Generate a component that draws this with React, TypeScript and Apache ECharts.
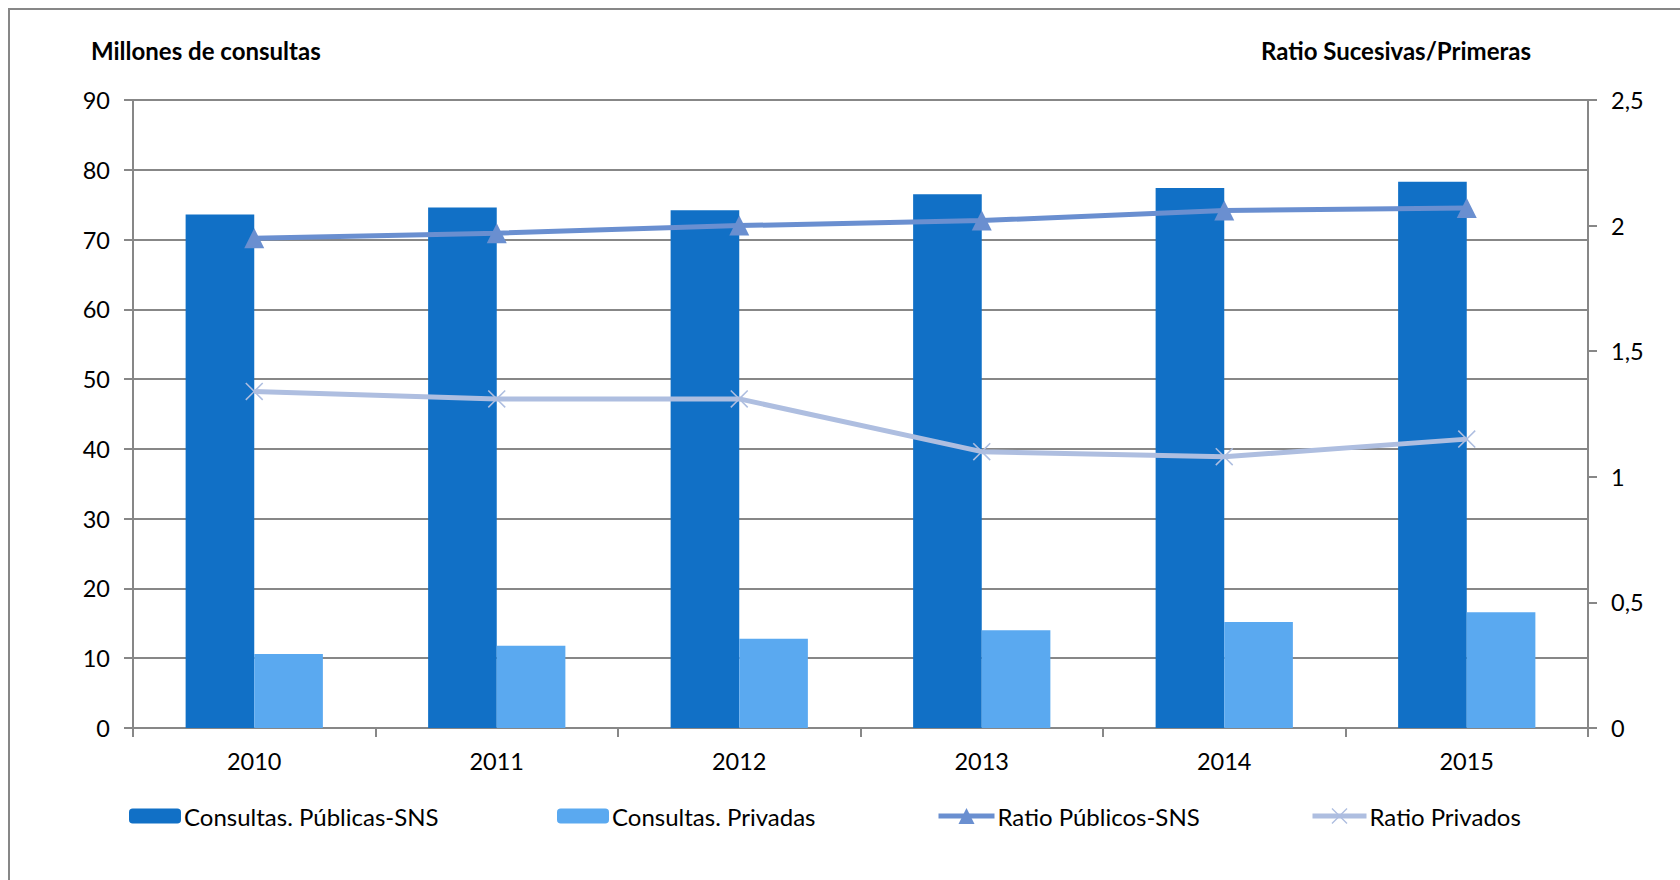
import React, { useEffect, useRef } from "react";
import * as echarts from "echarts";

const years = ["2010", "2011", "2012", "2013", "2014", "2015"];
const consultasPublicas = [73.6, 74.6, 74.2, 76.5, 77.4, 78.3];
const consultasPrivadas = [10.6, 11.8, 12.8, 14.0, 15.2, 16.6];
const ratioPublicos = [1.95, 1.97, 2.0, 2.02, 2.06, 2.07];
const ratioPrivados = [1.34, 1.31, 1.31, 1.1, 1.08, 1.15];

const seriesNames = [
  "Consultas. Públicas-SNS",
  "Consultas. Privadas",
  "Ratio Públicos-SNS",
  "Ratio Privados",
];

const FONT = "Lato";
const GRAY = "#878787";
const C_DARK = "#1170C6";
const C_LIGHT = "#5AA9F0";
const C_RPUB = "#6A8FD0";
const C_RPRIV = "#AEBEE0";
const X_SYMBOL =
  "path://M0,1.2 L1.2,0 L10,8.8 L18.8,0 L20,1.2 L11.2,10 L20,18.8 L18.8,20 L10,11.2 L1.2,20 L0,18.8 L8.8,10 Z";

export default function App() {
  const ref = useRef<HTMLDivElement>(null);

  useEffect(() => {
    if (!ref.current) return;
    const chart = echarts.init(ref.current, null, { renderer: "svg" });
    const legendText = { fontFamily: FONT, fontSize: 24, color: "#000" };
    const mkLegend = (
      name: string,
      left: number,
      w: number,
      h: number,
      lineColor?: string
    ) => ({
      show: true,
      data: [name],
      left,
      top: 804,
      padding: 0,
      itemWidth: w,
      itemHeight: h,
      itemGap: 0,
      textStyle: { ...legendText, padding: [0, 0, 0, -2] },
      selectedMode: false,
      ...(lineColor ? { lineStyle: { color: lineColor, width: 5 } } : {}),
    });
    chart.setOption({
      animation: false,
      backgroundColor: "#fff",
      grid: { left: 133, right: 92, top: 100, bottom: 152, containLabel: false },
      legend: [
        mkLegend(seriesNames[0], 129, 52, 15),
        mkLegend(seriesNames[1], 557, 52, 15),
        mkLegend(seriesNames[2], 936, 56, 20, C_RPUB),
        mkLegend(seriesNames[3], 1310, 54, 20, C_RPRIV),
      ],
      graphic: [
        {
          type: "rect",
          shape: { x: 9, y: 9, width: 1700, height: 1000 },
          style: { fill: "none", stroke: GRAY, lineWidth: 2 },
          silent: true,
          z: -10,
        },
        {
          type: "text",
          left: 91,
          top: 38,
          style: {
            text: "Millones de consultas",
            fontFamily: FONT,
            fontWeight: "bold",
            fontSize: 24,
            fill: "#000",
          },
        },
        {
          type: "text",
          right: 1680 - 1531,
          top: 38,
          style: {
            text: "Ratio Sucesivas/Primeras",
            fontFamily: FONT,
            fontWeight: "bold",
            fontSize: 24,
            fill: "#000",
          },
        },
      ],
      xAxis: {
        type: "category",
        data: years,
        axisLine: { lineStyle: { color: GRAY, width: 2 } },
        axisTick: { show: true, length: 9, lineStyle: { color: GRAY, width: 2 } },
        axisLabel: { margin: 21, fontFamily: FONT, fontSize: 23.5, color: "#000" },
        splitLine: { show: false },
      },
      yAxis: [
        {
          type: "value",
          min: 0,
          max: 90,
          interval: 10,
          axisLine: { show: true, lineStyle: { color: GRAY, width: 2 } },
          axisTick: { show: true, length: 9, lineStyle: { color: GRAY, width: 2 } },
          axisLabel: { margin: 23, fontFamily: FONT, fontSize: 23.5, color: "#000" },
          splitLine: { show: true, lineStyle: { color: GRAY, width: 2 } },
        },
        {
          type: "value",
          min: 0,
          max: 2.5,
          interval: 0.5,
          position: "right",
          axisLine: { show: true, lineStyle: { color: GRAY, width: 2 } },
          axisTick: { show: true, length: 9, lineStyle: { color: GRAY, width: 2 } },
          axisLabel: {
            margin: 23,
            fontFamily: FONT,
            fontSize: 23.5,
            color: "#000",
            formatter: (v: number) => String(v).replace(".", ","),
          },
          splitLine: { show: false },
        },
      ],
      series: [
        {
          name: seriesNames[0],
          type: "bar",
          data: consultasPublicas,
          itemStyle: { color: C_DARK },
          barGap: "0%",
          barCategoryGap: "43.4%",
        },
        {
          name: seriesNames[1],
          type: "bar",
          data: consultasPrivadas,
          itemStyle: { color: C_LIGHT },
          barGap: "0%",
          barCategoryGap: "43.4%",
        },
        {
          name: seriesNames[2],
          type: "line",
          yAxisIndex: 1,
          data: ratioPublicos,
          symbol: "triangle",
          symbolSize: 20,
          lineStyle: { color: C_RPUB, width: 5 },
          itemStyle: { color: C_RPUB },
          z: 5,
        },
        {
          name: seriesNames[3],
          type: "line",
          yAxisIndex: 1,
          data: ratioPrivados,
          symbol: X_SYMBOL,
          symbolSize: 18,
          lineStyle: { color: C_RPRIV, width: 5 },
          itemStyle: { color: C_RPRIV },
          z: 5,
        },
      ],
    });
    return () => chart.dispose();
  }, []);

  return (
    <div
      ref={ref}
      style={{ position: "fixed", left: 0, top: 0, width: 1680, height: 880 }}
    />
  );
}
